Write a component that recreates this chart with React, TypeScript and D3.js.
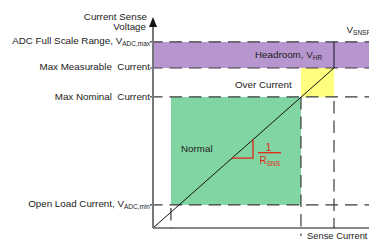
import React from "react";
import * as d3 from "d3";

// operating points, in relative units (0..100 on both axes)
const levelNames = ["fullScale", "maxMeasurable", "maxNominal", "openLoad"];
const levelVoltages = [88.6, 76.2, 62.4, 11];
const levelCurrents = [83.8, 83.8, 68.5, 8.3];
const slopeMarks = [36.6, 46.3];

const width = 369;
const height = 240;
const font = "'Liberation Sans', Arial, sans-serif";
const textColor = "#222";
const dashColor = "#3a3a3a";
const dash = "12.5,7";

const level = (name: string) => {
  const i = levelNames.indexOf(name);
  return { v: levelVoltages[i], c: levelCurrents[i] };
};

const App = () => {
  const x = d3.scaleLinear().domain([0, 100]).range([153, 369]);
  const y = d3.scaleLinear().domain([0, 100]).range([228, 18]);

  const full = level("fullScale");
  const meas = level("maxMeasurable");
  const nom = level("maxNominal");
  const open = level("openLoad");

  const gain = meas.v / meas.c;
  const line = d3.line<number>()
    .x((d) => x(d))
    .y((d) => y(d * gain));

  const sub = (t: string) => (
    <tspan fontSize={6.5} dy={2}>{t}</tspan>
  );

  const hDash = (v: number) => (
    <line x1={150} x2={width} y1={y(v)} y2={y(v)} stroke={dashColor} strokeWidth={1.2} strokeDasharray={dash} />
  );

  return (
    <svg width={width} height={height} style={{ position: "fixed", left: 0, top: 0 }} fontFamily={font}>
      <rect width={width} height={height} fill="#fff" />
      {/* regions */}
      <rect x={x(0)} y={y(full.v)} width={width - x(0)} height={y(meas.v) - y(full.v)} fill="#b795cf" />
      <rect x={x(nom.c)} y={y(meas.v)} width={x(meas.c) - x(nom.c)} height={y(nom.v) - y(meas.v)} fill="#ffff7f" />
      <rect x={x(open.c)} y={y(nom.v)} width={x(nom.c) - x(open.c)} height={y(open.v) - y(nom.v)} fill="#80d5a3" />

      {/* dashed guides */}
      {levelVoltages.map((v, i) => <g key={i}>{hDash(v)}</g>)}
      <line x1={x(nom.c)} x2={x(nom.c)} y1={y(nom.v)} y2={236} stroke={dashColor} strokeWidth={1.2} strokeDasharray={dash} />
      <line x1={x(meas.c)} x2={x(meas.c)} y1={y(nom.v) + 4} y2={y(0)} stroke={dashColor} strokeWidth={1.2} strokeDasharray={dash} />
      <line x1={x(open.c)} x2={x(open.c)} y1={y(open.v) + 3} y2={y(0)} stroke={dashColor} strokeWidth={1.2} strokeDasharray={dash} />
      <line x1={x(meas.c)} x2={x(meas.c)} y1={y(full.v)} y2={y(meas.v)} stroke="#111" />

      {/* transfer line */}
      <path d={line([0, meas.c]) ?? ""} fill="none" stroke="#111" strokeWidth={1} />

      {/* slope triangle */}
      <path
        d={`M${x(slopeMarks[0])},${y(slopeMarks[0] * gain)}H${x(slopeMarks[1])}V${y(slopeMarks[1] * gain)}`}
        fill="none" stroke="#e3241b" strokeWidth={1.3}
      />
      <text x={268.5} y={151} fontSize={10} fill="#e3241b" textAnchor="middle">1</text>
      <line x1={258} x2={281} y1={152.7} y2={152.7} stroke="#e3241b" strokeWidth={1.3} />
      <text x={259.5} y={163.5} fontSize={10} fill="#e3241b">R{sub("SNS")}</text>

      {/* axes */}
      <line x1={x(0)} x2={width} y1={y(0)} y2={y(0)} stroke="#111" />
      <line x1={x(0)} x2={x(0)} y1={y(0)} y2={25} stroke="#777" strokeWidth={2} />
      <path d={`M${x(0)},17L${x(0) - 4},27L${x(0) + 4},27Z`} fill="#111" />

      {/* labels */}
      <g fontSize={9.8} fill={textColor} textAnchor="end">
        <text x={147} y={19.5}>Current Sense</text>
        <text x={146} y={30}>Voltage</text>
        <text x={150} y={y(full.v) + 2.5}>ADC Full Scale Range, V{sub("ADC,max")}</text>
        <text x={150} y={y(meas.v) + 2.5} xmlSpace="preserve">Max Measurable  Current</text>
        <text x={150} y={y(nom.v) + 3} xmlSpace="preserve">Max Nominal  Current</text>
        <text x={150} y={y(open.v) + 2.5}>Open Load Current, V{sub("ADC,min")}</text>
      </g>
      <g fontSize={9.8} fill={textColor}>
        <text x={255} y={57.5}>Headroom, V{sub("HR")}</text>
        <text x={235} y={87.5}>Over Current</text>
        <text x={181} y={152}>Normal</text>
        <text x={346.5} y={32.5}>V{sub("SNSF")}</text>
        <text x={307} y={239} fontSize={9.4}>Sense Current</text>
      </g>
    </svg>
  );
};

export default App;
